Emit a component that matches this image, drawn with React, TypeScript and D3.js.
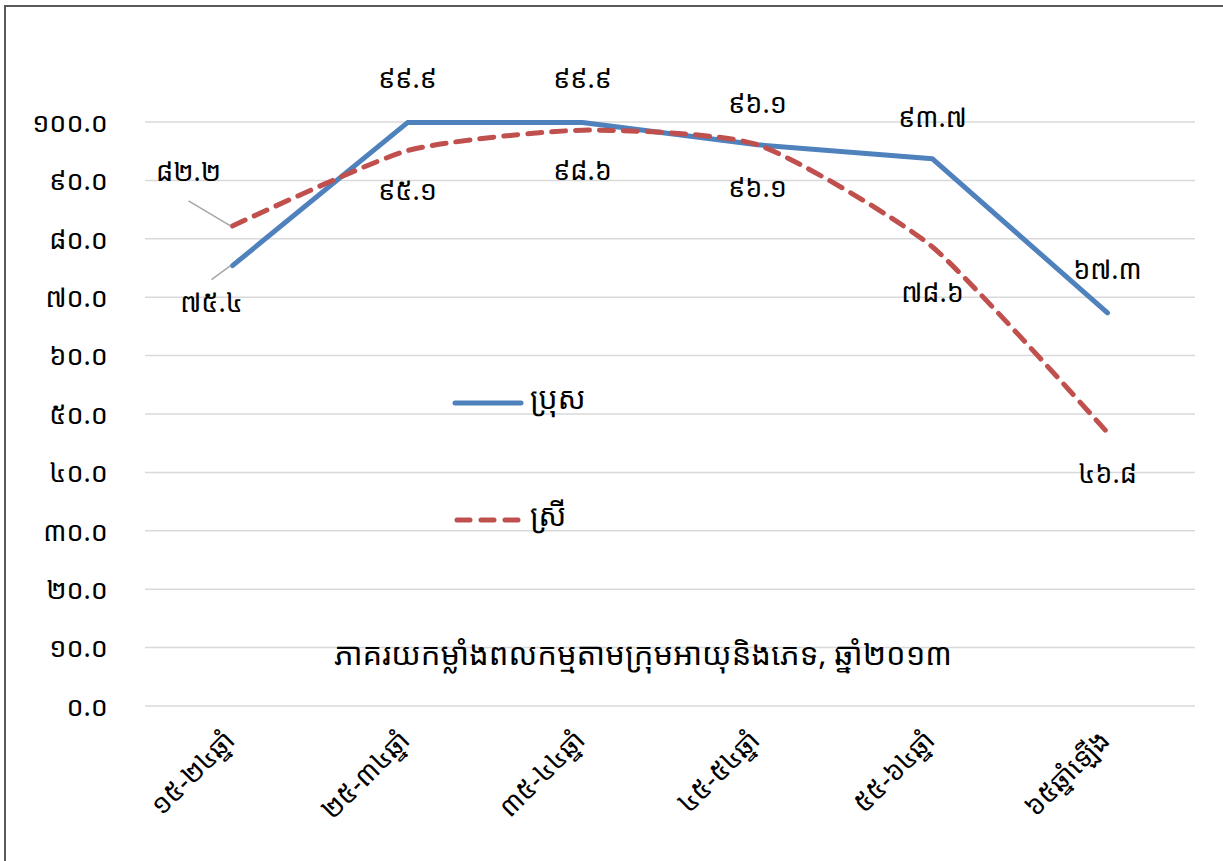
import React, { useRef, useEffect } from 'react';
import * as d3 from 'd3';

// Age groups (x categories)
const categories = ['១៥-២៤ឆ្នាំ', '២៥-៣៤ឆ្នាំ', '៣៥-៤៤ឆ្នាំ', '៤៥-៥៤ឆ្នាំ', '៥៥-៦៤ឆ្នាំ', '៦៥ឆ្នាំឡើង'];
// Labour force participation rate, 2013
const maleValues = [75.4, 99.9, 99.9, 96.1, 93.7, 67.3];
const femaleValues = [82.2, 95.1, 98.6, 96.1, 78.6, 46.8];
const yTicks = [0, 10, 20, 30, 40, 50, 60, 70, 80, 90, 100];
const seriesNames = ['ប្រុស', 'ស្រី'];
const title = 'ភាគរយកម្លាំងពលកម្មតាមក្រុមអាយុនិងភេទ, ឆ្នាំ២០១៣';

// label placement offsets (px) relative to each point
const maleLabelOffsets: [number, number][] = [[-21, 37], [0, -44], [0, -44], [0, -42], [0, -42], [0, -44]];
const femaleLabelOffsets: [number, number][] = [[-44, -55], [0, 40], [0, 40], [0, 43], [0, 45], [0, 41]];

const khmerDigits = '០១២៣៤៥៦៧៨៩';
const toKhmer = (s: string) => s.replace(/[0-9]/g, d => khmerDigits[+d]);

const App: React.FC = () => {
  const svgRef = useRef<SVGSVGElement>(null);

  useEffect(() => {
    if (!svgRef.current) return;
    const width = 1223;
    const height = 861;
    const font = '"Noto Sans Khmer", "Khmer OS", "Noto Sans", "DejaVu Sans", sans-serif';

    const svg = d3.select(svgRef.current);
    svg.selectAll('*').remove();
    svg.attr('width', width).attr('height', height).style('font-family', font).style('background', '#fff');

    // Frame (top + left edges)
    svg.append('path')
      .attr('d', `M5,${height} L5,6 L${width},6`)
      .attr('fill', 'none')
      .attr('stroke', '#595959')
      .attr('stroke-width', 2);

    const margin = { top: 122, left: 145, right: 28, bottom: 155 };
    const innerWidth = width - margin.left - margin.right;
    const innerHeight = 706 - margin.top;

    const g = svg.append('g').attr('transform', `translate(${margin.left},${margin.top})`);

    const x = d3.scaleBand().domain(categories).range([0, innerWidth]);
    const y = d3.scaleLinear().domain([0, 100]).range([innerHeight, 0]);
    const cx = (c: string) => (x(c) || 0) + x.bandwidth() / 2;

    // Grid lines
    g.selectAll('.grid')
      .data(yTicks)
      .join('line')
      .attr('x1', 0)
      .attr('x2', innerWidth)
      .attr('y1', d => y(d))
      .attr('y2', d => y(d))
      .attr('stroke', '#d9d9d9')
      .attr('stroke-width', 1.5);

    // Y tick labels
    g.selectAll('.ytick')
      .data(yTicks)
      .join('text')
      .attr('x', -37)
      .attr('y', d => y(d))
      .attr('dy', '0.36em')
      .attr('text-anchor', 'end')
      .style('font-size', '27px')
      .style('fill', '#000')
      .text(d => toKhmer(d3.format('.1f')(d)));

    // X labels (rotated)
    g.selectAll('.xtick')
      .data(categories)
      .join('text')
      .attr('transform', d => `translate(${cx(d) + 4},${innerHeight + 36}) rotate(-45)`)
      .attr('text-anchor', 'end')
      .style('font-size', '27px')
      .style('fill', '#000')
      .text(d => d);

    // Title
    g.append('text')
      .attr('x', innerWidth / 2 - 27)
      .attr('y', y(7))
      .attr('text-anchor', 'middle')
      .style('font-size', '31px')
      .style('fill', '#000')
      .text(title);

    const maleLine = d3.line<number>()
      .x((_, i) => cx(categories[i]))
      .y(d => y(d));
    const femaleLine = d3.line<number>()
      .x((_, i) => cx(categories[i]))
      .y(d => y(d))
      .curve(d3.curveCardinal.tension(0.4));

    g.append('path')
      .datum(maleValues)
      .attr('d', maleLine)
      .attr('fill', 'none')
      .attr('stroke', '#4f81bd')
      .attr('stroke-width', 5)
      .attr('stroke-linejoin', 'round')
      .attr('stroke-linecap', 'round');

    g.append('path')
      .datum(femaleValues)
      .attr('d', femaleLine)
      .attr('fill', 'none')
      .attr('stroke', '#c0504d')
      .attr('stroke-width', 5)
      .attr('stroke-dasharray', '14,10')
      .attr('stroke-linecap', 'round');

    // Leader lines for first labels
    const leaders = [
      { v: maleValues[0], dx: -21, dy: 14 },
      { v: femaleValues[0], dx: -44, dy: -25 },
    ];
    g.selectAll('.leader')
      .data(leaders)
      .join('line')
      .attr('x1', cx(categories[0]) - 2)
      .attr('y1', d => y(d.v))
      .attr('x2', d => cx(categories[0]) + d.dx)
      .attr('y2', d => y(d.v) + d.dy)
      .attr('stroke', '#a6a6a6')
      .attr('stroke-width', 1.5);

    const addLabels = (vals: number[], offs: [number, number][]) => {
      g.append('g')
        .selectAll('text')
        .data(vals)
        .join('text')
        .attr('x', (_, i) => cx(categories[i]) + offs[i][0])
        .attr('y', (d, i) => y(d) + offs[i][1])
        .attr('dy', '0.36em')
        .attr('text-anchor', 'middle')
        .style('font-size', '27px')
        .style('fill', '#000')
        .text(d => toKhmer(d3.format('.1f')(d)));
    };
    addLabels(maleValues, maleLabelOffsets);
    addLabels(femaleValues, femaleLabelOffsets);

    // Legend
    const legend = svg.append('g').attr('transform', 'translate(455,0)');
    legend.append('line')
      .attr('x1', 0).attr('x2', 66).attr('y1', 403).attr('y2', 403)
      .attr('stroke', '#4f81bd').attr('stroke-width', 5).attr('stroke-linecap', 'round');
    legend.append('line')
      .attr('x1', 2).attr('x2', 64).attr('y1', 520).attr('y2', 520)
      .attr('stroke', '#c0504d').attr('stroke-width', 5).attr('stroke-dasharray', '13,11')
      .attr('stroke-linecap', 'round');
    legend.selectAll('.lt')
      .data(seriesNames)
      .join('text')
      .attr('x', 75)
      .attr('y', (_, i) => (i === 0 ? 398 : 515))
      .attr('dy', '0.36em')
      .style('font-size', '30px')
      .style('fill', '#000')
      .text(d => d);
  }, []);

  return (
    <div style={{ position: 'absolute', left: 0, top: 0, background: '#fff' }}>
      <svg ref={svgRef} style={{ display: 'block' }} />
    </div>
  );
};

export default App;
